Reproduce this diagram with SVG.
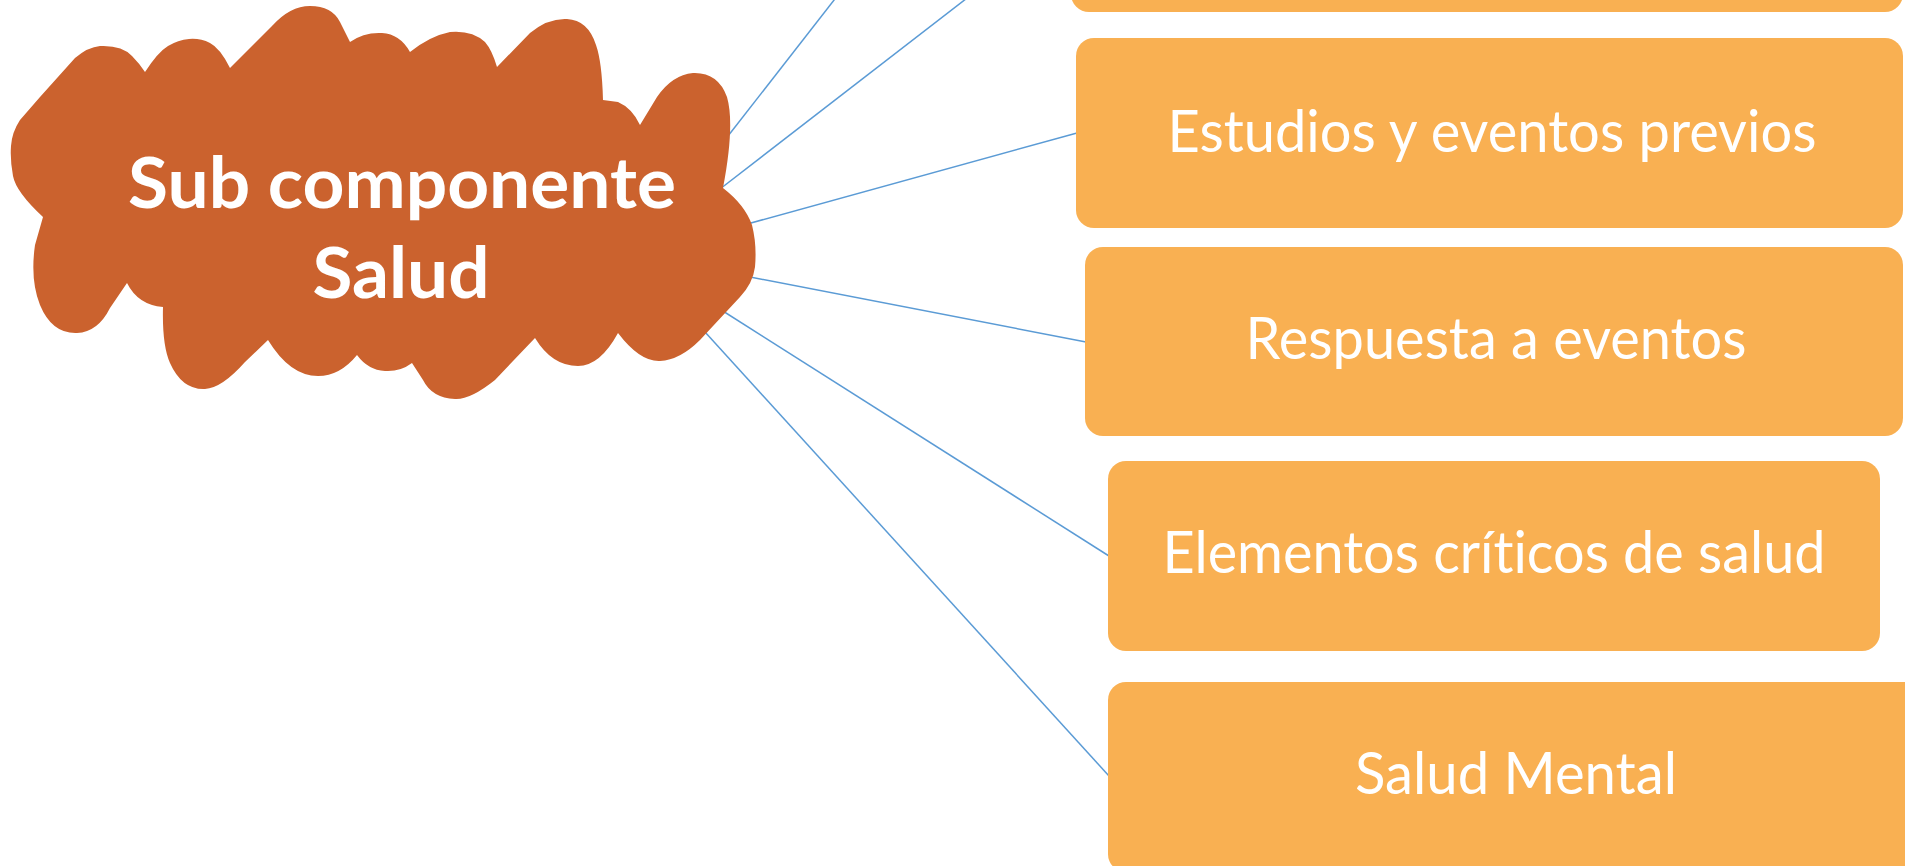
<svg xmlns="http://www.w3.org/2000/svg" width="1905" height="866" viewBox="0 0 1905 866">
<style>
.conn{stroke:#5B9BD5;stroke-width:1.5;fill:none}
.box{fill:#F9B052}
.cloud{fill:#CB622E}
text{font-variant-ligatures:none;font-feature-settings:"liga" 0,"clig" 0}
.lbl{font-family:Lato,"Open Sans","Liberation Sans",sans-serif;font-weight:400;font-size:59px;fill:#FFFFFF;text-anchor:middle}
.title{font-family:Lato,"Open Sans","Liberation Sans",sans-serif;font-weight:700;font-size:71px;fill:#FFFFFF;text-anchor:middle}
</style>
<rect width="1905" height="866" fill="#FFFFFF"/>
<g id="connectors">
<line class="conn" x1="728" y1="136" x2="838" y2="-5"/>
<line class="conn" x1="720" y1="189" x2="971" y2="-5"/>
<line class="conn" x1="740" y1="226" x2="1077" y2="133"/>
<line class="conn" x1="740" y1="275" x2="1086" y2="342"/>
<line class="conn" x1="715" y1="306" x2="1109" y2="556"/>
<line class="conn" x1="695" y1="321" x2="1109" y2="776"/>
</g>
<g id="cloud-salud">
<path class="cloud" d="M 43 217 Q 16 192 13 176 Q 10 160 11 146 Q 12 132 20 120 L 40 97 L 75 58 Q 88 47 100 46 Q 122 45 132 56 Q 139 63 145 72
Q 158 52 168 46 Q 178 40 189 39 Q 200 38 210 43 Q 220 48 230 68
L 272 26 Q 290 6 310 6 Q 332 6 340 22 L 350 42
Q 364 32 382 33 Q 400 34 410 52
Q 430 36 450 32 Q 472 30 485 42 Q 492 50 497 67
L 530 33 Q 548 18 567 19 Q 588 20 596 45 Q 602 62 603 100 L 618 102 Q 632 108 640 125
L 657 97 Q 672 75 693 73 Q 718 72 727 97 Q 735 125 723 188
Q 745 205 752 225 Q 757 245 755 267 Q 753 283 740 297 L 700 340 Q 680 360 660 361 Q 640 362 618 333
Q 600 366 578 366 Q 552 366 535 338
L 495 380 Q 470 400 455 399 Q 432 398 423 380 L 412 363
Q 400 372 385 371 Q 368 370 357 355
Q 340 376 318 376 Q 290 376 268 340
L 245 362 Q 222 388 205 389 Q 182 390 170 363 Q 162 345 163 307
Q 138 305 127 283
L 110 308 Q 98 332 77 333 Q 52 334 40 305 Q 30 280 35 245 Z"/>
<text class="title" x="402" y="208" textLength="548" lengthAdjust="spacingAndGlyphs">Sub componente</text>
<text class="title" x="401" y="298" textLength="177" lengthAdjust="spacingAndGlyphs">Salud</text>
</g>
<g id="box-top">
<rect class="box" x="1071" y="-200" width="832" height="212" rx="18"/>
</g>
<g id="box-estudios">
<rect class="box" x="1076" y="38" width="827" height="190" rx="18"/>
<text class="lbl" x="1492" y="152" textLength="649" lengthAdjust="spacingAndGlyphs">Estudios y eventos previos</text>
</g>
<g id="box-respuesta">
<rect class="box" x="1085" y="247" width="818" height="189" rx="18"/>
<text class="lbl" x="1496" y="359" textLength="501" lengthAdjust="spacingAndGlyphs">Respuesta a eventos</text>
</g>
<g id="box-elementos">
<rect class="box" x="1108" y="461" width="772" height="190" rx="18"/>
<text class="lbl" x="1494" y="573" textLength="663" lengthAdjust="spacingAndGlyphs">Elementos críticos de salud</text>
</g>
<g id="box-salud-mental">
<rect class="box" x="1108" y="682" width="820" height="190" rx="18"/>
<text class="lbl" x="1516" y="794" textLength="322" lengthAdjust="spacingAndGlyphs">Salud Mental</text>
</g>
</svg>
